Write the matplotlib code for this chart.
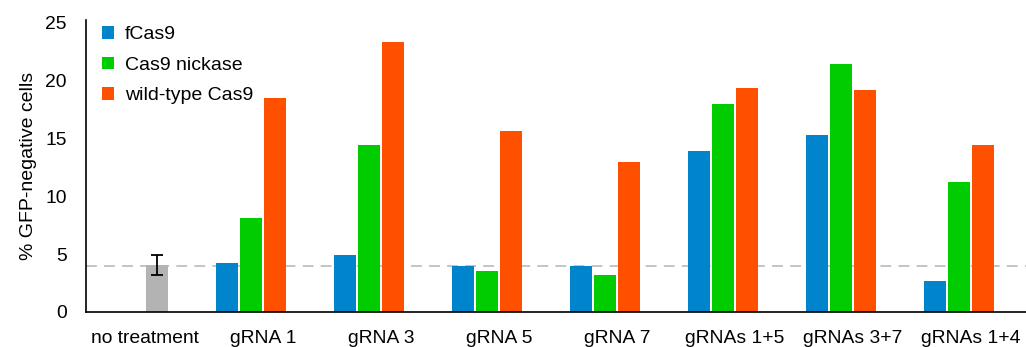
import matplotlib
matplotlib.use("Agg")
import matplotlib.pyplot as plt
import numpy as np

plt.rcParams['font.family'] = ['Liberation Sans', 'DejaVu Sans']

categories = ["no treatment", "gRNA 1", "gRNA 3", "gRNA 5", "gRNA 7",
              "gRNAs 1+5", "gRNAs 3+7", "gRNAs 1+4"]
series_names = ["fCas9", "Cas9 nickase", "wild-type Cas9"]
fcas9 = [np.nan, 4.2, 4.9, 3.98, 3.98, 13.9, 15.28, 2.65]
nickase = [np.nan, 8.16, 14.45, 3.55, 3.2, 17.97, 21.48, 11.22]
wildtype = [np.nan, 18.5, 23.35, 15.66, 12.98, 19.38, 19.23, 14.45]
untreated_mean = 4.04
untreated_err = 0.85
background_level = 4.0

colors = ["#0084CC", "#00CC00", "#FF5000"]
gray = "#B3B3B3"

fig = plt.figure(figsize=(10.26, 3.47), dpi=100)
ax = fig.add_axes([86 / 1026, 35 / 347, 1 - 86 / 1026, 292 / 347])

x = np.arange(len(categories))
pitch = 0.205
width = 0.19
offsets = [-1.5 * pitch, -0.5 * pitch, 0.5 * pitch]

ax.axhline(background_level, color="#BFBFBF", lw=1.3, ls=(0, (6, 4)), zorder=1)

for vals, off, col, name in zip([fcas9, nickase, wildtype], offsets, colors, series_names):
    ax.bar(x + off, vals, width=width, color=col, label=name, zorder=2)

ax.bar(x[0] + offsets[2], untreated_mean, width=width, color=gray, zorder=2)
ax.errorbar(x[0] + offsets[2], untreated_mean, yerr=untreated_err, fmt="none",
            ecolor="black", elinewidth=1.3, capsize=4, capthick=1.3, zorder=3)

ax.set_xlim(-0.5, 7.466)
ax.set_ylim(0, 25.25)
ax.set_yticks([0, 5, 10, 15, 20, 25])
ax.set_xticks(x)
ax.set_xticklabels(categories, fontsize=13.9)
ax.tick_params(axis="both", length=0, labelsize=13.9)
ax.tick_params(axis="x", pad=13)
ax.tick_params(axis="y", pad=14)
ax.set_ylabel("% GFP-negative cells", fontsize=14, labelpad=6)

for s in ["top", "right"]:
    ax.spines[s].set_visible(False)
ax.spines["left"].set_linewidth(1.2)
ax.spines["bottom"].set_linewidth(1.2)

leg = ax.legend(loc="upper left", bbox_to_anchor=(0.003, 1.025), frameon=False,
                fontsize=14, handlelength=0.6, handleheight=0.6,
                handletextpad=0.55, labelspacing=0.69, borderaxespad=0.3)

fig.savefig("out.png", dpi=100)
